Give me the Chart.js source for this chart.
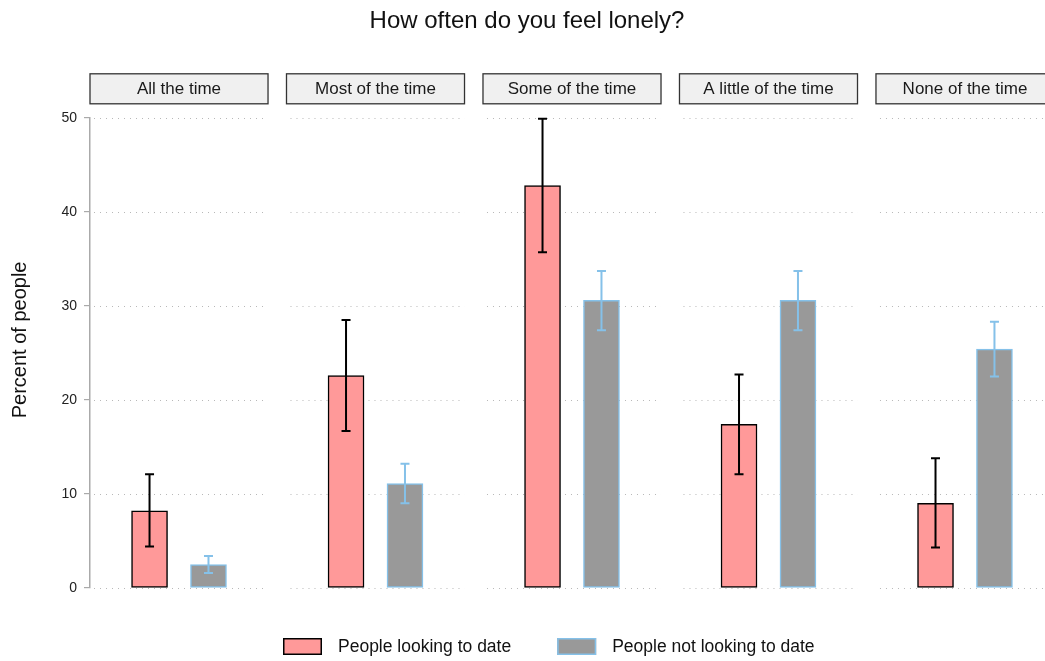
<!DOCTYPE html>
<html>
<head>
<meta charset="utf-8">
<script src="https://cdn.jsdelivr.net/npm/chart.js@4"></script>
<style>
    html, body { margin: 0; padding: 0; background: #fff; overflow: hidden; }
    canvas { display: block; }
</style>
</head>
<body>
<canvas id="lonelyChart" width="1062" height="661"></canvas>
<script>
// Data
const categories = ['All the time', 'Most of the time', 'Some of the time', 'A little of the time', 'None of the time'];
const seriesNames = ['People looking to date', 'People not looking to date'];
const lookingValues = [8.2, 22.6, 42.8, 17.4, 9.0];
const lookingLower = [4.4, 16.7, 35.7, 12.1, 4.3];
const lookingUpper = [12.1, 28.5, 49.9, 22.7, 13.8];
const notLookingValues = [2.5, 11.1, 30.6, 30.6, 25.4];
const notLookingLower = [1.6, 9.0, 27.4, 27.4, 22.5];
const notLookingUpper = [3.4, 13.2, 33.7, 33.7, 28.3];
const yTicks = [0, 10, 20, 30, 40, 50];

// Facet layout (in category units, one unit per panel)
const PANEL_HALF = 0.453;
const DODGE = 0.15;
const FONT = "'Liberation Sans', Arial, sans-serif";

const facetPlugin = {
    id: 'facetDecor',
    beforeDatasetsDraw(chart) {
        const ctx = chart.ctx;
        const xs = chart.scales.x;
        const ys = chart.scales.y;
        const area = chart.chartArea;
        ctx.save();
        categories.forEach((cat, i) => {
            const x0 = xs.getPixelForValue(i - PANEL_HALF);
            const x1 = xs.getPixelForValue(i + PANEL_HALF);

            // dotted grid lines inside each panel
            ctx.strokeStyle = '#b8b8b8';
            ctx.lineWidth = 1;
            ctx.setLineDash([1, 5]);
            yTicks.forEach(v => {
                const py = Math.round(ys.getPixelForValue(v)) + 0.5;
                ctx.beginPath();
                ctx.moveTo(x0 + 4, py);
                ctx.lineTo(x1, py);
                ctx.stroke();
            });
            ctx.setLineDash([]);

            // strip label above each panel
            const top = area.top - 44;
            ctx.fillStyle = '#f0f0f0';
            ctx.fillRect(x0, top, x1 - x0, 30);
            ctx.strokeStyle = '#333333';
            ctx.lineWidth = 1.3;
            ctx.strokeRect(x0, top, x1 - x0, 30);
            ctx.fillStyle = '#1a1a1a';
            ctx.font = '17px ' + FONT;
            ctx.textAlign = 'center';
            ctx.textBaseline = 'middle';
            ctx.fillText(cat, (x0 + x1) / 2, top + 15.5);
        });
        ctx.restore();
    },
    afterDatasetsDraw(chart) {
        const ctx = chart.ctx;
        const ys = chart.scales.y;
        ctx.save();
        chart.data.datasets.forEach((ds, d) => {
            const meta = chart.getDatasetMeta(d);
            ctx.strokeStyle = ds.errColor;
            ctx.lineWidth = 2;
            meta.data.forEach((bar, i) => {
                const lo = ys.getPixelForValue(ds.errLow[i]);
                const hi = ys.getPixelForValue(ds.errHigh[i]);
                ctx.beginPath();
                ctx.moveTo(bar.x, lo);
                ctx.lineTo(bar.x, hi);
                ctx.moveTo(bar.x - 4.5, lo);
                ctx.lineTo(bar.x + 4.5, lo);
                ctx.moveTo(bar.x - 4.5, hi);
                ctx.lineTo(bar.x + 4.5, hi);
                ctx.stroke();
            });
        });
        ctx.restore();
    },
    afterDraw(chart) {
        const ctx = chart.ctx;
        const area = chart.chartArea;
        ctx.save();

        // y axis title
        ctx.translate(20, (area.top + area.bottom) / 2 - 13);
        ctx.rotate(-Math.PI / 2);
        ctx.fillStyle = '#111';
        ctx.font = '20px ' + FONT;
        ctx.textAlign = 'center';
        ctx.textBaseline = 'middle';
        ctx.fillText('Percent of people', 0, 0);
        ctx.setTransform(1, 0, 0, 1, 0, 0);

        // legend at the bottom
        ctx.font = '17.5px ' + FONT;
        ctx.textAlign = 'left';
        let x = 283;
        const boxTop = 638;
        chart.data.datasets.forEach(ds => {
            ctx.fillStyle = ds.backgroundColor;
            ctx.fillRect(x, boxTop, 39, 17);
            ctx.strokeStyle = ds.borderColor;
            ctx.lineWidth = 1.5;
            ctx.strokeRect(x + 0.75, boxTop + 0.75, 37.5, 15.5);
            ctx.fillStyle = '#111';
            ctx.fillText(ds.label, x + 55, boxTop + 9);
            x += 55 + ctx.measureText(ds.label).width + 46;
        });
        ctx.restore();
    }
};

const ctx = document.getElementById('lonelyChart').getContext('2d');
new Chart(ctx, {
    type: 'bar',
    data: {
        datasets: [
            {
                label: seriesNames[0],
                data: lookingValues.map((v, i) => ({ x: i - DODGE, y: v })),
                backgroundColor: '#ff9999',
                borderColor: '#000000',
                borderWidth: 1.5,
                borderSkipped: false,
                errLow: lookingLower,
                errHigh: lookingUpper,
                errColor: '#000000'
            },
            {
                label: seriesNames[1],
                data: notLookingValues.map((v, i) => ({ x: i + DODGE, y: v })),
                backgroundColor: '#999999',
                borderColor: '#85c1e9',
                borderWidth: 1.5,
                borderSkipped: false,
                errLow: notLookingLower,
                errHigh: notLookingUpper,
                errColor: '#85c1e9'
            }
        ]
    },
    options: {
        responsive: false,
        animation: false,
        devicePixelRatio: 1,
        grouped: false,
        barThickness: 36,
        layout: {
            padding: { left: 0, right: 8, top: 0, bottom: 73 }
        },
        plugins: {
            legend: { display: false },
            tooltip: { enabled: false },
            title: {
                display: true,
                text: 'How often do you feel lonely?',
                color: '#111',
                font: { family: FONT, size: 24, weight: 'normal' },
                padding: { top: 7, bottom: 82 }
            }
        },
        scales: {
            x: {
                type: 'linear',
                offset: false,
                min: -PANEL_HALF,
                max: categories.length - 1 + PANEL_HALF,
                display: false
            },
            y: {
                min: 0,
                max: 50,
                afterBuildTicks: scale => {
                    scale.ticks = yTicks.map(v => ({ value: v }));
                },
                afterFit: scale => {
                    scale.width = 90;
                },
                ticks: {
                    color: '#222',
                    padding: 7,
                    font: { family: FONT, size: 14 }
                },
                grid: {
                    drawOnChartArea: false,
                    tickLength: 6,
                    color: '#aaaaaa',
                    lineWidth: 1.2
                },
                border: {
                    color: '#aaaaaa',
                    width: 1.5
                }
            }
        }
    },
    plugins: [facetPlugin]
});
</script>
</body>
</html>
